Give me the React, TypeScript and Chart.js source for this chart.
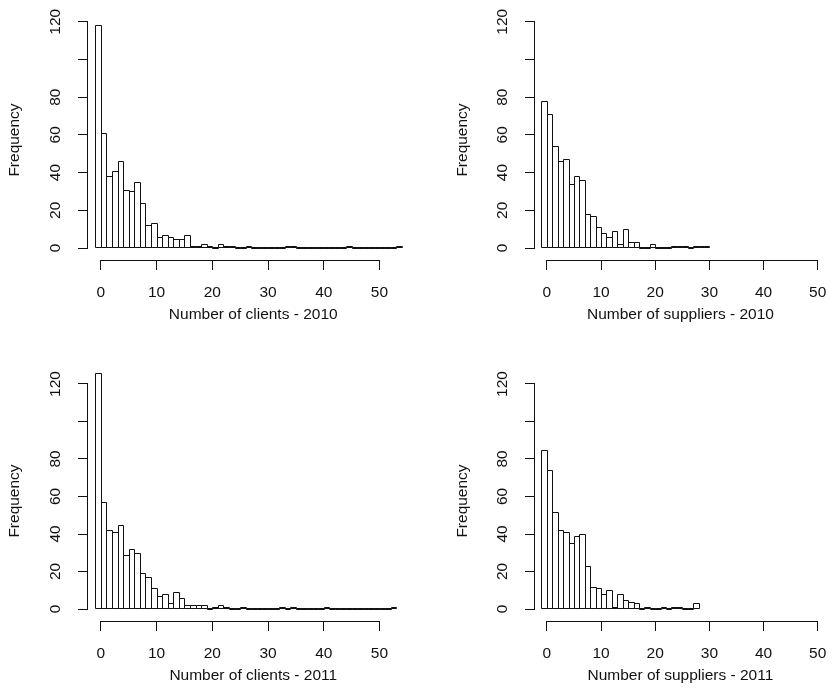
import React, { useEffect, useRef } from "react";
import { Chart, registerables } from "chart.js";

Chart.register(...registerables);

// Histogram counts: index v = count of value v (bin spans v-1 .. v)
const clients2010 = [118, 61, 38, 41, 46, 31, 30, 35, 24, 12, 13, 6, 7, 6, 5, 5, 7, 1, 1, 2, 1, 0, 2, 1, 1, 0, 0, 1, 0, 0, 0, 0, 0, 0, 1, 1, 0, 0, 0, 0, 0, 0, 0, 0, 0, 1, 0, 0, 0, 0, 0, 0, 0, 0, 1];
const suppliers2010 = [78, 71, 54, 46, 47, 34, 38, 36, 18, 17, 11, 8, 6, 9, 2, 10, 3, 3, 0, 0, 2, 0, 0, 0, 1, 1, 1, 0, 1, 1, 1];
const clients2011 = [126, 57, 42, 41, 45, 29, 32, 30, 19, 17, 11, 7, 8, 3, 9, 6, 2, 2, 2, 2, 0, 1, 2, 1, 0, 0, 1, 0, 0, 0, 0, 0, 0, 1, 0, 1, 0, 0, 0, 0, 0, 1, 0, 0, 0, 0, 0, 0, 0, 0, 0, 0, 0, 1];
const suppliers2011 = [85, 74, 52, 42, 41, 35, 39, 40, 23, 12, 11, 8, 10, 1, 8, 5, 4, 3, 0, 1, 0, 0, 1, 0, 1, 1, 0, 0, 3];

const xTickValues = [0, 10, 20, 30, 40, 50];
const xTickLabels = ["0", "10", "20", "30", "40", "50"];
const yTickValues = [0, 20, 40, 60, 80, 100, 120];
const yTickLabels = ["0", "20", "40", "60", "80", "", "120"]; // R drops the overlapping "100"
const yTitle = "Frequency";
const xTitles = [
  "Number of clients - 2010",
  "Number of suppliers - 2010",
  "Number of clients - 2011",
  "Number of suppliers - 2011",
];

const FONT = '"Liberation Sans", Arial, Helvetica, sans-serif';
const FS = 15.5;
const INK = "#111111";

// R-style axes: axis line only between first and last tick; crisp bar outlines
const rAxes = {
  id: "rAxes",
  afterDatasetsDraw(chart: any) {
    const { ctx } = chart;
    const meta = chart.getDatasetMeta(0);
    ctx.save();
    ctx.strokeStyle = INK;
    ctx.lineWidth = 1;
    ctx.beginPath();
    for (const el of meta.data) {
      const props = el.getProps(["x", "y", "base", "width"], true);
      const l = Math.round(props.x - props.width / 2) + 0.5;
      const r = Math.round(props.x + props.width / 2) + 0.5;
      const t = Math.round(props.y) + 0.5;
      const b = Math.round(props.base) - 0.5;
      ctx.rect(l, Math.min(t, b), r - l, Math.abs(b - t));
    }
    ctx.stroke();
    ctx.restore();
  },
  afterDraw(chart: any) {
    const { ctx, chartArea, scales } = chart;
    const x = scales.x;
    const y = scales.y;
    ctx.save();
    ctx.strokeStyle = INK;
    ctx.lineWidth = 1;
    ctx.beginPath();
    const yA = Math.round(chartArea.left) - 0.5;
    const yTop = Math.round(y.getPixelForValue(yTickValues[yTickValues.length - 1]) - 0.5) + 0.5;
    const yBot = Math.round(y.getPixelForValue(yTickValues[0]) - 0.5) + 0.5;
    ctx.moveTo(yA, yTop - 0.5);
    ctx.lineTo(yA, yBot + 0.5);
    const xA = Math.round(chartArea.bottom) + 0.5;
    const xL = Math.round(x.getPixelForValue(xTickValues[0]) - 0.5) + 0.5;
    const xR = Math.round(x.getPixelForValue(xTickValues[xTickValues.length - 1]) - 0.5) + 0.5;
    ctx.moveTo(xL - 0.5, xA);
    ctx.lineTo(xR + 0.5, xA);
    ctx.stroke();
    ctx.restore();
  },
};

type PanelProps = {
  counts: number[];
  xTitle: string;
  left: number;
  top: number;
  width: number;
  height: number;
  yAxisW: number;
  xAxisH: number;
  padTop: number;
  padRight: number;
  padBottom: number;
  xMin: number;
  xMax: number;
  yMin: number;
  yMax: number;
  yTitlePad: number;
};

function Panel(p: PanelProps) {
  const ref = useRef<HTMLCanvasElement | null>(null);
  useEffect(() => {
    if (!ref.current) return;
    const bars = p.counts.map((c, v) => ({ x: v - 0.5, y: c }));
    const chart = new Chart(ref.current, {
      type: "bar",
      data: {
        datasets: [
          {
            type: "bar",
            data: bars as any,
            backgroundColor: "#ffffff",
            borderColor: INK,
            borderWidth: 0,
            borderSkipped: false,
            barPercentage: 1,
            categoryPercentage: 1,
            inflateAmount: 0,
            clip: false,
          } as any,
        ],
      },
      options: {
        responsive: false,
        animation: false,
        devicePixelRatio: 1,
        layout: {
          padding: { left: 0, top: p.padTop, right: p.padRight, bottom: p.padBottom },
        },
        plugins: { legend: { display: false }, tooltip: { enabled: false } },
        scales: {
          x: {
            type: "linear",
            min: p.xMin,
            max: p.xMax,
            offset: false,
            afterBuildTicks: (s: any) => {
              s.ticks = xTickValues.map((v) => ({ value: v }));
            },
            afterFit: (s: any) => {
              s.height = p.xAxisH;
            },
            grid: {
              display: true,
              offset: false,
              drawOnChartArea: false,
              drawTicks: true,
              tickLength: 10,
              color: INK,
              lineWidth: 1,
            },
            border: { display: false },
            ticks: {
              autoSkip: false,
              maxRotation: 0,
              minRotation: 0,
              padding: 13.5,
              color: INK,
              font: { family: FONT, size: FS },
              callback: (_v: any, i: number) => xTickLabels[i],
            },
            title: {
              display: true,
              text: p.xTitle,
              color: INK,
              font: { family: FONT, size: FS },
              padding: { top: 0, bottom: 0 },
            },
          },
          y: {
            type: "linear",
            min: p.yMin,
            max: p.yMax,
            afterBuildTicks: (s: any) => {
              s.ticks = yTickValues.map((v) => ({ value: v }));
            },
            afterFit: (s: any) => {
              s.width = p.yAxisW;
            },
            grid: {
              display: true,
              drawOnChartArea: false,
              drawTicks: true,
              tickLength: 10,
              color: INK,
              lineWidth: 1,
            },
            border: { display: false },
            ticks: {
              autoSkip: false,
              minRotation: 90,
              maxRotation: 90,
              crossAlign: "center",
              padding: 9,
              color: INK,
              font: { family: FONT, size: FS },
              callback: (_v: any, i: number) => yTickLabels[i],
            },
            title: {
              display: true,
              text: yTitle,
              color: INK,
              font: { family: FONT, size: FS },
              padding: { top: p.yTitlePad, bottom: 0 },
            },
          },
        },
      } as any,
      plugins: [rAxes],
    });
    return () => chart.destroy();
  }, []);
  return (
    <canvas
      ref={ref}
      width={p.width}
      height={p.height}
      style={{ position: "absolute", left: p.left, top: p.top, width: p.width, height: p.height, display: "block" }}
    />
  );
}

export default function App() {
  const topRow = { padTop: 20, padBottom: 23, yMin: -6.36, yMax: 120.9, height: 347, top: 0 };
  const botRow = { padTop: 34, padBottom: 10, yMin: -6.4, yMax: 121.6, height: 348, top: 347 };
  const leftCol = { left: 0, yAxisW: 88, padRight: 1.5, xMin: -2.3, xMax: 57, yTitlePad: 5.7 };
  const rightCol = { left: 420, yAxisW: 115, padRight: 6.1, xMin: -2.2, xMax: 51.5, yTitlePad: 33.7 };
  return (
    <div style={{ position: "absolute", left: 0, top: 0, width: 840, height: 695, background: "#fff", overflow: "hidden" }}>
      <Panel counts={clients2010} xTitle={xTitles[0]} width={420} xAxisH={64} {...topRow} {...leftCol} />
      <Panel counts={suppliers2010} xTitle={xTitles[1]} width={420} xAxisH={64} {...topRow} {...rightCol} />
      <Panel counts={clients2011} xTitle={xTitles[2]} width={420} xAxisH={64} {...botRow} {...leftCol} />
      <Panel counts={suppliers2011} xTitle={xTitles[3]} width={420} xAxisH={64} {...botRow} {...rightCol} />
    </div>
  );
}
